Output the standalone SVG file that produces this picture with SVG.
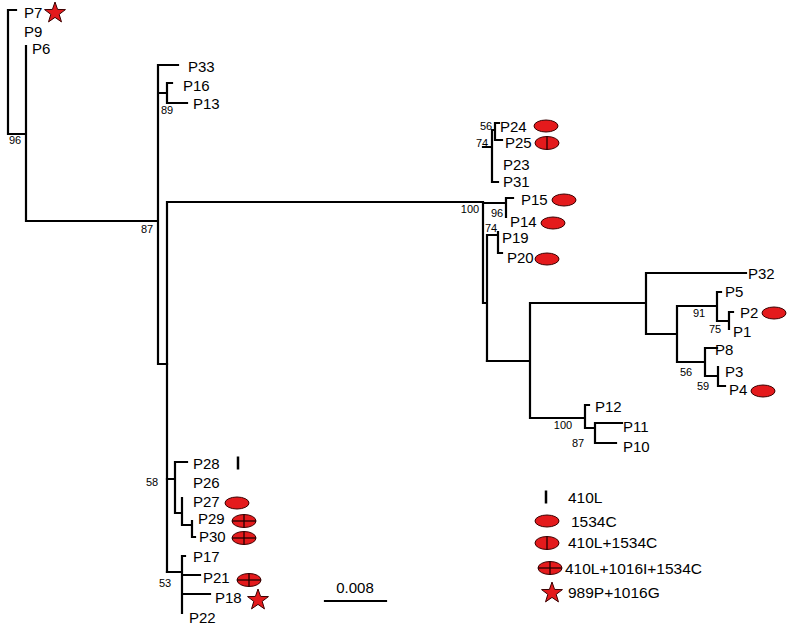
<svg xmlns="http://www.w3.org/2000/svg" xmlns:xlink="http://www.w3.org/1999/xlink" width="787" height="637" viewBox="0 0 787 637">
<style>
.t{font-family:"Liberation Sans",Arial,sans-serif;font-size:15px;fill:#000}
.b{font-family:"Liberation Sans",Arial,sans-serif;font-size:11px;fill:#000}
.l{font-family:"Liberation Sans",Arial,sans-serif;font-size:15.5px;fill:#000}
.e{stroke:#000;stroke-width:2.2;fill:none;stroke-linecap:square}
.m{fill:#e41a1c;stroke:#3a0000;stroke-width:1}
.k{stroke:#200;stroke-width:1.3}
</style>
<defs>
<g id="ov"><ellipse class="m" cx="0" cy="0" rx="12" ry="6"/></g>
<g id="ovv"><ellipse class="m" cx="0" cy="0" rx="12" ry="6.5"/><line class="k" x1="0" y1="-6.5" x2="0" y2="6.5"/></g>
<g id="ovx"><ellipse class="m" cx="0" cy="0" rx="12" ry="6.5"/><line class="k" x1="0" y1="-6.5" x2="0" y2="6.5"/><line class="k" x1="-12" y1="0" x2="12" y2="0"/></g>
<path id="st" class="m" d="M0,-11 L2.59,-3.56 L10.46,-3.4 L4.18,1.36 L6.47,8.9 L0,4.4 L-6.47,8.9 L-4.18,1.36 L-10.46,-3.4 L-2.59,-3.56 Z"/>
<line id="bar" x1="0" y1="-6.5" x2="0" y2="6.5" stroke="#000" stroke-width="2.5"/>
</defs>
<rect width="787" height="637" fill="#fff"/>
<g id="connectors" class="e">
<path d="M16,10 H8 V134 H26 M26,46 V221 H158 M158,65 V364 H167 M178,65 H158 M158,93 H167 M172,83 H167 V103 H187"/>
<path d="M167,202 V572 M167,202 H483 V303 H487 M483,147 H492 M495,130 H492 V182 H498 M499,123 H495 V140 H502 M483,203 H506 M513,198 H506 V217 M487,235 V361 M487,235 H498 M498,232 V253 H502"/>
<path d="M487,361 H530 V418 M530,303 V361 M530,303 H646 M746,273 H646 V334 H677 M677,306 V362 H705 M677,306 H717 M721,292 H717 V321 H729 M733,312 H729 V329 M717,348 H705 V376 H718 M718,367 V386 H725 M530,418 H585 M589,405 H585 V428 H595 M622,423 H595 V443 H616"/>
<path d="M167,479 H175 M187,462 H175 V513 H182 M182,498 V525 H192 M192,521 V537 H195 M167,572 H182 M185,556 H182 V613 M182,575 H200 M182,594 H210"/>
<path d="M325,601 H386"/>
</g>
<g id="P7"><text class="t" x="24" y="18">P7</text><use xlink:href="#st" x="55" y="13"/></g>
<g id="P9"><text class="t" x="24" y="37">P9</text></g>
<g id="P6"><text class="t" x="32" y="54">P6</text></g>
<g id="P33"><text class="t" x="188" y="72">P33</text></g>
<g id="P16"><text class="t" x="183" y="91">P16</text></g>
<g id="P13"><text class="t" x="193" y="109">P13</text></g>
<g id="P24"><text class="t" x="500" y="132">P24</text><use xlink:href="#ov" x="546" y="126"/></g>
<g id="P25"><text class="t" x="505" y="148">P25</text><use xlink:href="#ovv" x="547" y="143"/></g>
<g id="P23"><text class="t" x="503" y="170">P23</text></g>
<g id="P31"><text class="t" x="503" y="187">P31</text></g>
<g id="P15"><text class="t" x="521" y="205">P15</text><use xlink:href="#ov" x="564" y="200"/></g>
<g id="P14"><text class="t" x="510" y="227">P14</text><use xlink:href="#ov" x="553" y="223"/></g>
<g id="P19"><text class="t" x="502" y="243">P19</text></g>
<g id="P20"><text class="t" x="507" y="263">P20</text><use xlink:href="#ov" x="547" y="259"/></g>
<g id="P32"><text class="t" x="748" y="279">P32</text></g>
<g id="P5"><text class="t" x="725" y="297">P5</text></g>
<g id="P2"><text class="t" x="740" y="318">P2</text><use xlink:href="#ov" x="774" y="313"/></g>
<g id="P1"><text class="t" x="733" y="337">P1</text></g>
<g id="P8"><text class="t" x="715" y="355">P8</text></g>
<g id="P3"><text class="t" x="725" y="377">P3</text></g>
<g id="P4"><text class="t" x="729" y="395">P4</text><use xlink:href="#ov" x="763" y="391"/></g>
<g id="P12"><text class="t" x="595" y="412">P12</text></g>
<g id="P11"><text class="t" x="623" y="432">P11</text></g>
<g id="P10"><text class="t" x="623" y="452">P10</text></g>
<g id="P28"><text class="t" x="193" y="469">P28</text><use xlink:href="#bar" x="238" y="463"/></g>
<g id="P26"><text class="t" x="193" y="488">P26</text></g>
<g id="P27"><text class="t" x="193" y="507">P27</text><use xlink:href="#ov" x="237" y="503"/></g>
<g id="P29"><text class="t" x="198" y="524">P29</text><use xlink:href="#ovx" x="244" y="521"/></g>
<g id="P30"><text class="t" x="199" y="542">P30</text><use xlink:href="#ovx" x="244" y="538"/></g>
<g id="P17"><text class="t" x="193" y="562">P17</text></g>
<g id="P21"><text class="t" x="203" y="583">P21</text><use xlink:href="#ovx" x="249" y="580"/></g>
<g id="P18"><text class="t" x="215" y="603">P18</text><use xlink:href="#st" x="258" y="600"/></g>
<g id="P22"><text class="t" x="189" y="623">P22</text></g>
<g id="bootstrap">
<text class="b" x="15" y="144" text-anchor="middle">96</text>
<text class="b" x="147" y="233" text-anchor="middle">87</text>
<text class="b" x="167" y="114" text-anchor="middle">89</text>
<text class="b" x="470" y="213" text-anchor="middle">100</text>
<text class="b" x="486" y="130" text-anchor="middle">56</text>
<text class="b" x="482" y="147" text-anchor="middle">74</text>
<text class="b" x="497" y="217" text-anchor="middle">96</text>
<text class="b" x="491" y="232" text-anchor="middle">74</text>
<text class="b" x="699" y="317" text-anchor="middle">91</text>
<text class="b" x="715" y="333" text-anchor="middle">75</text>
<text class="b" x="686" y="376" text-anchor="middle">56</text>
<text class="b" x="703" y="390" text-anchor="middle">59</text>
<text class="b" x="563" y="429" text-anchor="middle">100</text>
<text class="b" x="578" y="447" text-anchor="middle">87</text>
<text class="b" x="152" y="486" text-anchor="middle">58</text>
<text class="b" x="165" y="587" text-anchor="middle">53</text>
</g>
<g id="scale"><text class="t" x="355" y="593" text-anchor="middle">0.008</text></g>
<g id="legend">
<use xlink:href="#bar" x="546" y="497"/><text class="l" x="568" y="503">410L</text>
<use xlink:href="#ov" x="547" y="521"/><text class="l" x="571" y="527">1534C</text>
<use xlink:href="#ovv" x="547" y="543"/><text class="l" x="568" y="548">410L+1534C</text>
<use xlink:href="#ovx" x="550" y="568"/><text class="l" x="565" y="574">410L+1016I+1534C</text>
<use xlink:href="#st" x="552" y="593"/><text class="l" x="568" y="598">989P+1016G</text>
</g>
</svg>
